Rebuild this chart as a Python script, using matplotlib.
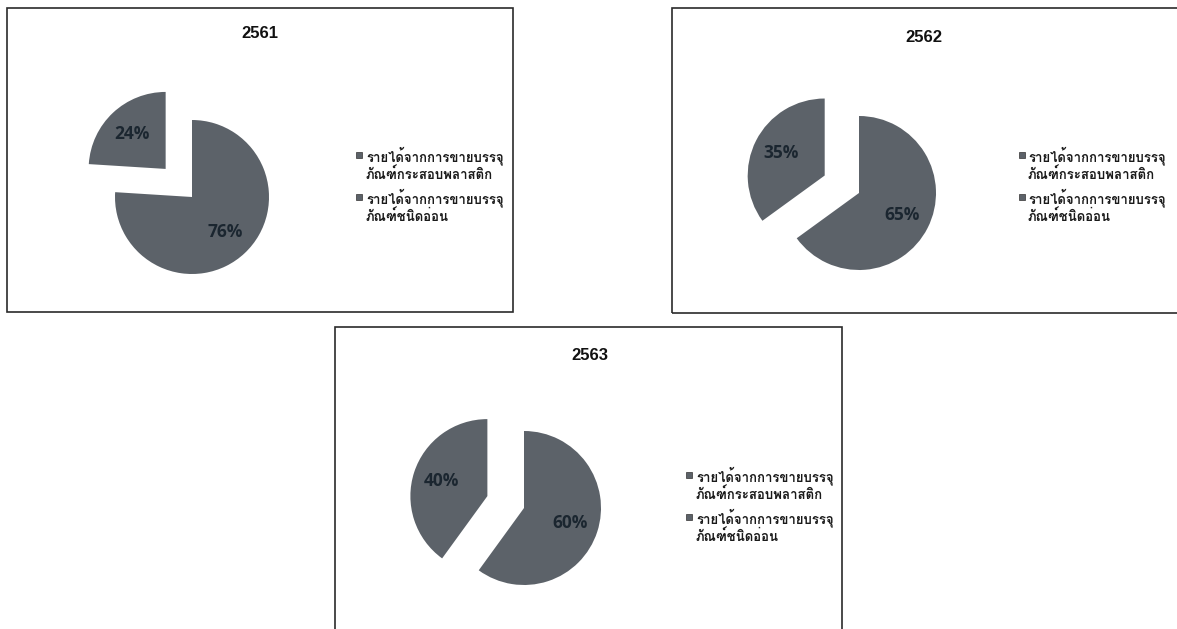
# -*- coding: utf-8 -*-
"""
Three pie charts: revenue split by packaging type, 2561-2563
"""
import matplotlib
matplotlib.use('Agg')
import matplotlib.pyplot as plt
from matplotlib import font_manager
from matplotlib.ft2font import FT2Font
from matplotlib.patches import Rectangle

# data
years = ['2561', '2562', '2563']
labels = ['รายได้จากการขายบรรจุ\nภัณฑ์กระสอบพลาสติก',
          'รายได้จากการขายบรรจุ\nภัณฑ์ชนิดอ่อน']
share_2561 = [76, 24]
share_2562 = [65, 35]
share_2563 = [60, 40]
shares = [share_2561, share_2562, share_2563]


def thai_font():
    # look for an installed font that has Thai glyphs
    for f in font_manager.fontManager.ttflist:
        try:
            if 0x0E01 in FT2Font(f.fname).get_charmap():
                return f.name
        except Exception:
            pass
    return 'DejaVu Sans'


THAI = thai_font()

W, H = 1177, 629
fig = plt.figure(figsize=(W / 100, H / 100), dpi=100)
fig.patch.set_facecolor('white')

slice_col = '#5c6269'
R = 77  # pie radius in px

# panel boxes (left, top, right, bottom) in px, pie centre, title pos,
# legend marker centre x / first line y / text left x
panels = [
    dict(box=(7, 8, 513, 312), centre=(192, 197), title=(260, 33), leg=(359, 155, 366)),
    dict(box=(672, 8, 1185, 313), centre=(859, 193), title=(924, 37), leg=(1022, 155, 1028)),
    dict(box=(335, 327, 842, 640), centre=(524, 508), title=(590, 355), leg=(689, 475, 696)),
]

for year, vals, p in zip(years, shares, panels):
    l, t, r, b = p['box']
    fig.patches.append(Rectangle((l / W, 1 - b / H), (r - l) / W, (b - t) / H,
                                 transform=fig.transFigure, fill=False,
                                 edgecolor='#2b2b2b', linewidth=1.2))
    fig.text(p['title'][0] / W, 1 - p['title'][1] / H, year, ha='center', va='center',
             fontsize=12, fontweight='bold', family='Liberation Sans', color='#111111')

    cx, cy = p['centre']
    half = 2 * R
    ax = fig.add_axes([(cx - half) / W, 1 - (cy + half) / H, 2 * half / W, 2 * half / H])
    wedges, _, autotexts = ax.pie(vals, startangle=90, counterclock=False,
                                  explode=[0, 0.5], radius=1,
                                  colors=[slice_col, slice_col],
                                  autopct='%d%%', pctdistance=0.63,
                                  wedgeprops=dict(linewidth=0))
    for at in autotexts:
        at.set_fontsize(12.5)
        at.set_fontweight('bold')
        at.set_family('Open Sans')
        at.set_color('#1b2630')
    ax.set_xlim(-2, 2)
    ax.set_ylim(-2, 2)
    ax.axis('off')

    # legend: square marker next to the first line of each label
    mx, my, tx = p['leg']
    for i, (w, lab) in enumerate(zip(wedges, labels)):
        yy = my + i * 42
        fig.patches.append(Rectangle(((mx - 3) / W, 1 - (yy + 3) / H), 6 / W, 6 / H,
                                     transform=fig.transFigure,
                                     facecolor=w.get_facecolor(), edgecolor='#333333',
                                     linewidth=0.5))
        fig.text(tx / W, 1 - (yy - 9) / H, lab, ha='left', va='top',
                 family=[THAI, 'DejaVu Sans'], fontsize=9.5, fontweight='bold',
                 color='#1a1a1a', linespacing=1.2)

plt.savefig('out.png', dpi=100)
plt.close()
